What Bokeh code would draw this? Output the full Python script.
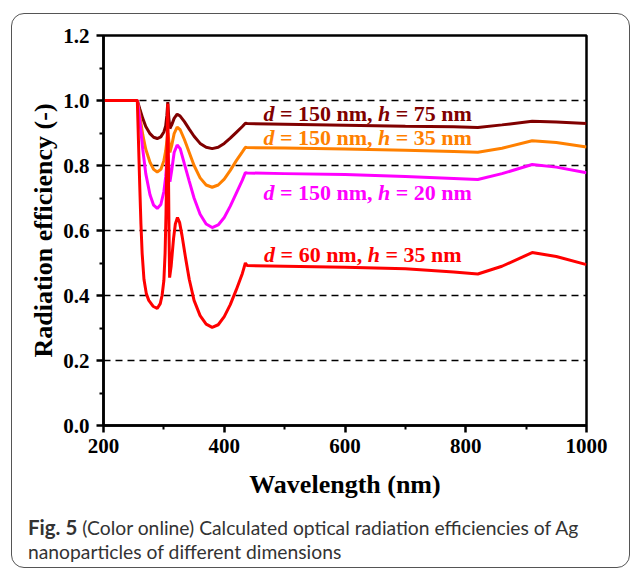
from bokeh.plotting import figure
from bokeh.models import (Range1d, FixedTicker, PrintfTickFormatter, Label, Div, Column)
from bokeh.embed import file_html
from bokeh.resources import INLINE

# ---------------- data ----------------
wl_150 = [200, 256, 260, 265, 270, 277, 283, 289, 295, 300, 303, 305, 306.5, 308, 310,
          313, 317, 322, 327, 334, 342, 350, 360, 370, 380, 390, 400, 410, 420, 430,
          435, 438, 500, 600, 700, 780, 820, 860, 910, 950, 1000]
eff_d150_h75 = [1.0, 1.0, 0.975, 0.945, 0.92, 0.898, 0.887, 0.883, 0.888, 0.903, 0.922,
                0.955, 0.995, 0.95, 0.914, 0.925, 0.945, 0.958, 0.952, 0.935, 0.912, 0.89,
                0.868, 0.856, 0.852, 0.856, 0.868, 0.884, 0.902, 0.92, 0.93, 0.929, 0.927,
                0.924, 0.921, 0.919, 0.917, 0.925, 0.936, 0.934, 0.929]
eff_d150_h35 = [1.0, 1.0, 0.955, 0.895, 0.85, 0.81, 0.788, 0.78, 0.788, 0.815, 0.845,
                0.875, 0.9, 0.88, 0.84, 0.862, 0.898, 0.918, 0.91, 0.88, 0.84, 0.8,
                0.762, 0.74, 0.733, 0.74, 0.758, 0.785, 0.815, 0.842, 0.856, 0.855, 0.854,
                0.851, 0.847, 0.843, 0.841, 0.853, 0.876, 0.871, 0.857]
eff_d150_h20 = [1.0, 1.0, 0.94, 0.85, 0.775, 0.71, 0.678, 0.668, 0.68, 0.72, 0.765,
                0.81, 0.845, 0.8, 0.75, 0.785, 0.84, 0.863, 0.852, 0.805, 0.752, 0.7,
                0.65, 0.62, 0.609, 0.617, 0.64, 0.675, 0.715, 0.755, 0.778, 0.777, 0.775,
                0.772, 0.766, 0.76, 0.757, 0.775, 0.803, 0.795, 0.778]
wl_60 = [200, 256, 258, 260, 262, 264, 267, 271, 275, 282, 289, 294, 297, 300, 302,
         303.5, 305, 306.5, 307.5, 308.5, 309.5, 312, 316, 319, 322.5, 326, 330, 336,
         342, 350, 360, 370, 380, 390, 400, 410, 420, 430, 435, 438, 500, 600, 700,
         780, 820, 860, 910, 950, 1000]
eff_d60_h35 = [1.0, 1.0, 0.87, 0.74, 0.62, 0.53, 0.45, 0.405, 0.385, 0.367, 0.36, 0.375,
               0.4, 0.446, 0.53, 0.65, 0.82, 0.99, 0.8, 0.6, 0.455, 0.49, 0.575, 0.62,
               0.64, 0.625, 0.585, 0.515, 0.45, 0.385, 0.338, 0.312, 0.302, 0.31, 0.335,
               0.372, 0.418, 0.468, 0.5, 0.492, 0.49, 0.487, 0.482, 0.472, 0.466, 0.49,
               0.532, 0.52, 0.495]

series_x = [wl_150, wl_150, wl_150, wl_60]
series_y = [eff_d150_h75, eff_d150_h35, eff_d150_h20, eff_d60_h35]
series_colors = ["#800000", "#FF8000", "#FF00FF", "#FF0000"]

label_d = ["150", "150", "150", "60"]
label_h = ["75", "35", "20", "35"]
label_x = [465, 465, 465, 466]          # wavelength where each label starts
label_y = [0.96, 0.886, 0.717, 0.526]   # label centre

x_ticks = [200, 400, 600, 800, 1000]
x_minor_ticks = [300, 500, 700, 900]
y_ticks = [0.0, 0.2, 0.4, 0.6, 0.8, 1.0, 1.2]
y_minor_ticks = [0.1, 0.3, 0.5, 0.7, 0.9, 1.1]
grid_levels = [0.2, 0.4, 0.6, 0.8, 1.0]

x_title = "Wavelength (nm)"
y_title = "Radiation efficiency (-)"
caption_bold = "Fig. 5"
caption_line1 = "(Color online) Calculated optical radiation efficiencies of Ag"
caption_line2 = "nanoparticles of different dimensions"

# ---------------- layout geometry (canvas pixels) ----------------
BOX_L, BOX_T, BOX_W, BOX_H = 12, 14, 617, 553
FRAME_L, FRAME_R, FRAME_T, FRAME_B = 103, 586, 35, 425
FIG_H = 490

SERIF = "Liberation Serif"
X0, X1, Y0, Y1 = 200, 1000, 0.0, 1.2
p = figure(width=BOX_W, height=FIG_H, output_backend="svg", toolbar_location=None,
           x_range=Range1d(X0, X1), y_range=Range1d(Y0, Y1),
           min_border_left=FRAME_L - BOX_L, min_border_right=BOX_L + BOX_W - FRAME_R,
           min_border_top=FRAME_T - BOX_T, min_border_bottom=BOX_T + FIG_H - FRAME_B)
p.background_fill_color = "white"
p.border_fill_color = None
p.outline_line_color = "black"
p.outline_line_width = 2.5

p.xaxis.ticker = FixedTicker(ticks=x_ticks, minor_ticks=x_minor_ticks)
p.yaxis.ticker = FixedTicker(ticks=y_ticks, minor_ticks=y_minor_ticks)
p.yaxis.formatter = PrintfTickFormatter(format="%.1f")

for ax in (p.xaxis, p.yaxis):
    ax.axis_line_width = 2.5
    ax.axis_line_color = "black"
    ax.major_tick_line_width = 2.5
    ax.major_tick_out = 7
    ax.major_tick_in = 0
    ax.minor_tick_line_width = 2
    ax.minor_tick_out = 4
    ax.minor_tick_in = 0
    ax.major_label_text_font = SERIF
    ax.major_label_text_font_style = "bold"
    ax.major_label_text_font_size = "21px"
    ax.major_label_text_color = "black"
    ax.axis_label_text_font = SERIF
    ax.axis_label_text_font_style = "bold"
    ax.axis_label_text_font_size = "26px"
    ax.axis_label_text_color = "black"

p.xaxis.axis_label = x_title
p.yaxis.axis_label = y_title
p.xaxis.major_label_standoff = 6
p.yaxis.major_label_standoff = 7
p.xaxis.axis_label_standoff = 14
p.yaxis.axis_label_standoff = 2

p.xgrid.visible = False
p.ygrid.ticker = FixedTicker(ticks=grid_levels)
p.ygrid.grid_line_color = "black"
p.ygrid.grid_line_width = 1.5
p.ygrid.grid_line_dash = "7 5"

for xs, ys, c in zip(series_x, series_y, series_colors):
    p.line(xs, ys, line_color=c, line_width=3)

# ---------------- curve labels (mixed italic / bold) ----------------
FS = 22
W_BOLD = {" ": 250, "=": 570, ",": 250, "n": 556, "m": 833,
          **{str(i): 500 for i in range(10)}}
W_BI = {"d": 500, "h": 556}

def width(s, table):
    return sum(table[ch] for ch in s) / 1000 * FS

for dval, hval, lx, ly, c in zip(label_d, label_h, label_x, label_y, series_colors):
    parts = [("d", "bold italic", W_BI), (f" = {dval} nm, ", "bold", W_BOLD),
             ("h", "bold italic", W_BI), (f" = {hval} nm", "bold", W_BOLD)]
    off = 0.0
    for txt, style, tbl in parts:
        lead = len(txt) - len(txt.lstrip(" "))
        off_txt = off + lead * W_BOLD[" "] / 1000 * FS
        p.add_layout(Label(x=lx, y=ly, x_offset=off_txt, text=txt.strip(" "),
                           text_font=SERIF, text_font_style=style,
                           text_font_size=f"{FS}px", text_color=c,
                           text_baseline="middle", text_align="left"))
        off += width(txt, tbl)

# ---------------- caption ----------------
cap_html = (
    '<div style="font-family: Lato, sans-serif; font-size: 19.3px; line-height: 24px; '
    'color: #333333; padding: 6px 0 0 11px; white-space: nowrap;">'
    f'<span style="font-weight: bold; font-size: 20.5px;">{caption_bold}</span> '
    f'{caption_line1}<br>{caption_line2}</div>'
)
cap = Div(text=cap_html, width=BOX_W, height=BOX_H - FIG_H)

page = Column(p, cap, width=BOX_W, height=BOX_H, margin=(BOX_T, 0, 0, BOX_L),
              styles={"outline": "1.5px solid #555555", "border-radius": "12px",
                      "background-color": "white"})

open("out.html", "w").write(file_html(page, INLINE))
